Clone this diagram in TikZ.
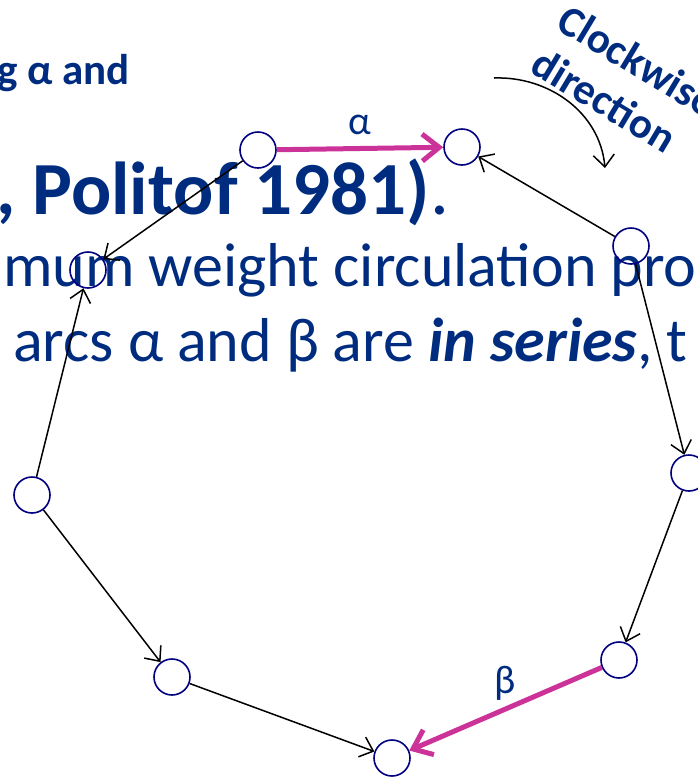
\documentclass[tikz,border=0pt]{standalone}
\usepackage{fontspec}
\setmainfont{Carlito}
\usetikzlibrary{arrows.meta,positioning}
\definecolor{slideblue}{RGB}{0,44,128}
\definecolor{ringblue}{RGB}{0,0,128}
\definecolor{serialpink}{RGB}{204,51,153}

\begin{document}
\begin{tikzpicture}[x=1pt,y=-1pt,
    vtx/.style={circle,draw=ringblue,line width=1.6pt,minimum size=36pt,inner sep=0pt},
    arcline/.style={-{Straight Barb[length=12pt,width=21pt]},line width=1.5pt},
    serial/.style={-{Straight Barb[length=17pt,width=27pt]},line width=5pt,draw=serialpink},
    slide/.style={text=slideblue,inner sep=0pt,anchor=base west}]
    \clip (0,0) rectangle (698,777);
    % slide text behind the graph
    \node[slide,font=\fontsize{43}{50}\selectfont\bfseries] (txtand) at (-3,84) {g α and};
    \node[slide,font=\fontsize{75}{90}\selectfont] (txtref) at (-4,214) {\textbf{, Politof 1981)}.};
    \node[slide,font=\fontsize{62}{74}\selectfont] (txtcirc) at (3,286) {mum weight circulation pro};
    \node[slide,font=\fontsize{62}{74}\selectfont] (txtser) at (13,361) {arcs α and β are \textbf{\textit{in series}}, t};
    \node[text=slideblue,font=\fontsize{43}{51}\selectfont\bfseries,align=left,inner sep=0pt,
          anchor=north west,rotate=-31] (cwtext) at (570,2) {Clockwise\\direction};
    \coordinate (cwtail) at (494,78);
    \coordinate (cwhead) at (605,168);
    \draw[arcline] (cwtail) .. controls (548,76) and (600,112) .. (cwhead);
    % the circulation
    \node[vtx] (A) at (258,150) {};
    \node[vtx] (B) at (462,147) {};
    \node[vtx] (C) at (631,246) {};
    \node[vtx] (D) at (689,473) {};
    \node[vtx] (E) at (619,660) {};
    \node[vtx] (F) at (392,758) {};
    \node[vtx] (G) at (172,677) {};
    \node[vtx] (H) at (32,495) {};
    \node[vtx] (I) at (88,270) {};
    \draw[serial] (A) -- node[above=8pt,text=slideblue,font=\fontsize{40}{48}\selectfont] (alpha) {α} (B);
    \draw[serial] (E) -- node[above=3pt,text=slideblue,font=\fontsize{40}{48}\selectfont] (beta) {β} (F);
    \draw[arcline] (C) -- (B);
    \draw[arcline] (A) -- (I);
    \draw[arcline] (H) -- (I);
    \draw[arcline] (H) -- (G);
    \draw[arcline] (G) -- (F);
    \draw[arcline] (D) -- (E);
    \draw[arcline] (C) -- (D);
\end{tikzpicture}
\end{document}
